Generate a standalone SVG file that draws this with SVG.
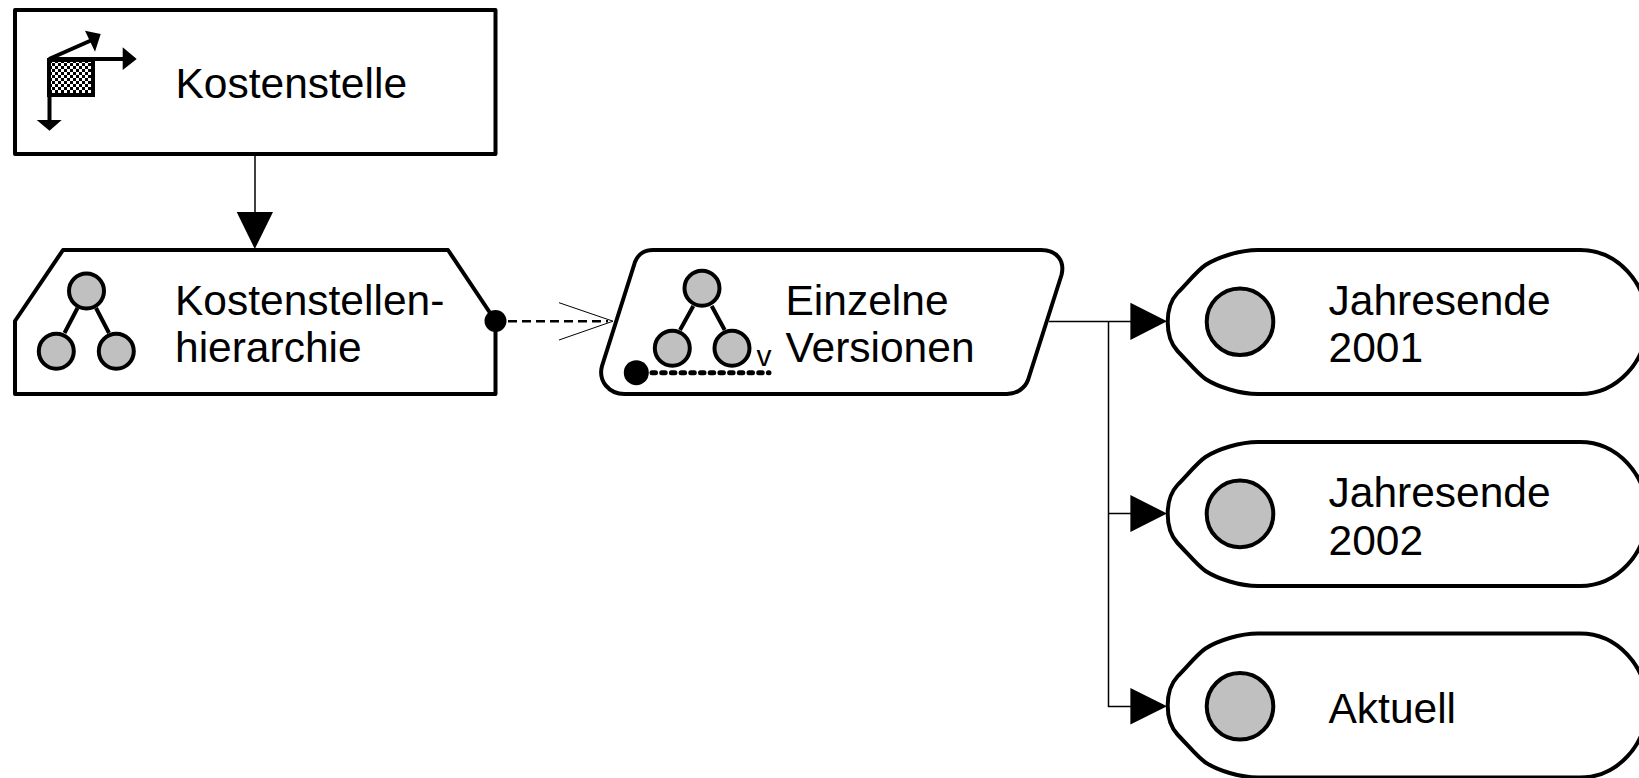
<svg xmlns="http://www.w3.org/2000/svg" width="1639" height="778" viewBox="0 0 1639 778">
<style>
.s{fill:#fff;stroke:#000;stroke-width:4;stroke-linejoin:round}
.c{fill:#c0c0c0;stroke:#000;stroke-width:4}
.l{stroke:#000;stroke-width:4;fill:none}
.k{fill:#000;stroke:none}
.w{stroke:#000;stroke-width:1.5;fill:none}
text{font-family:"Liberation Sans",Arial,sans-serif;font-size:42.5px;fill:#000}
</style>
<defs>
<pattern id="chk" width="6" height="6" patternUnits="userSpaceOnUse" x="49" y="60">
<rect width="6" height="6" fill="#fff"/>
<rect width="3" height="3" fill="#000"/>
<rect x="3" y="3" width="3" height="3" fill="#000"/>
</pattern>
<path id="pill" class="s" d="M1258,0H1580A67,72 0 0 1 1580,144H1258C1240,144 1218,137 1205.5,129C1198,124 1190,114 1177.5,101C1171,94 1167.7,84 1167.7,72C1167.7,60 1171,50 1177.5,43C1190,30 1198,20 1205.5,15C1218,7 1240,0 1258,0Z"/>
</defs>
<rect width="1639" height="778" fill="#fff"/>
<g id="connectors">
<path class="w" d="M255,153V214"/>
<path class="k" d="M236.7,212H273L254.8,249Z"/>
<path d="M508,321.2H608" stroke="#000" stroke-width="2.5" fill="none" stroke-dasharray="9 5"/>
<path d="M559,302.7L613,321.2L559,340" stroke="#000" stroke-width="1" fill="none"/>
<path class="w" d="M1049,321.5H1132M1108.5,321.5V706.5H1132M1108.5,513.5H1132"/>
<path class="k" d="M1130.4,302.7L1167,321.3L1130.4,340Z"/>
<path class="k" d="M1130.4,495L1167,513.5L1130.4,532Z"/>
<path class="k" d="M1130.4,688L1167,706.3L1130.4,724.5Z"/>
</g>
<g id="kostenstelle">
<rect class="s" x="15" y="10" width="480.5" height="144"/>
<rect x="49" y="60" width="44" height="35" fill="url(#chk)" stroke="#000" stroke-width="4"/>
<path class="l" d="M49,59H125M49.5,95V122M49,59L92,40"/>
<path class="k" d="M122.7,47.3L136.7,59L122.7,70ZM36.7,120L49.5,130.7L61.7,120ZM85,30.7L100.7,34L95,51.7Z"/>
<text x="175.5" y="97.5">Kostenstelle</text>
</g>
<g id="hierarchie">
<path class="s" d="M15,321L63,250H448L495.5,321V394H15Z"/>
<circle class="k" cx="495.5" cy="321" r="11"/>
<path class="l" d="M77.5,308L64.5,333M96,308L109,333"/>
<circle class="c" cx="86.5" cy="291" r="17.5"/>
<circle class="c" cx="56.3" cy="351.3" r="17.5"/>
<circle class="c" cx="116.3" cy="351.3" r="17.5"/>
<text x="175" y="314.5">Kostenstellen-</text>
<text x="175" y="362">hierarchie</text>
</g>
<g id="versionen">
<path class="s" d="M635,262C638,254 645,250 653,250H1041C1057,250 1065,261 1061.5,275L1028,380C1025,388 1017,394 1007,394H624.4C609,394 598,381 602,366Z"/>
<path class="l" d="M693.3,306L680,330M711.7,306L724.7,330"/>
<circle class="c" cx="702" cy="288.3" r="17.5"/>
<circle class="c" cx="672.3" cy="348.3" r="17.5"/>
<circle class="c" cx="732" cy="348.3" r="17.5"/>
<circle class="k" cx="636.3" cy="372.7" r="12.5"/>
<path d="M652,372.7H769" stroke="#000" stroke-width="5" fill="none" stroke-linecap="round" stroke-dasharray="3.5 6.2"/>
<text x="756.5" y="366" style="font-size:30px">v</text>
<text x="785.5" y="314.5">Einzelne</text>
<text x="785.5" y="362">Versionen</text>
</g>
<g id="jahresende2001">
<use href="#pill" y="250"/>
<circle class="c" cx="1240" cy="321.7" r="33.3"/>
<text x="1328.5" y="314.5">Jahresende</text>
<text x="1328.5" y="362">2001</text>
</g>
<g id="jahresende2002">
<use href="#pill" y="442"/>
<circle class="c" cx="1240" cy="513.9" r="33.3"/>
<text x="1328.5" y="506.5">Jahresende</text>
<text x="1328.5" y="554.5">2002</text>
</g>
<g id="aktuell">
<use href="#pill" y="633.5"/>
<circle class="c" cx="1240" cy="706.3" r="33.3"/>
<text x="1328.5" y="722.5">Aktuell</text>
</g>
</svg>
